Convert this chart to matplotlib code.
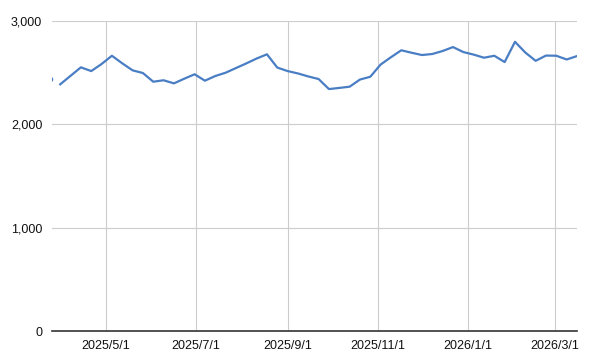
import matplotlib
matplotlib.use("Agg")
import matplotlib.pyplot as plt
import numpy as np
import pandas as pd

# Data (weekly)
first_date = "2025-03-31"
values = [2388, 2470, 2552, 2516, 2584, 2664, 2591, 2523, 2497, 2413,
          2427, 2397, 2442, 2485, 2423, 2468, 2500, 2545, 2590, 2637,
          2678, 2550, 2516, 2493, 2464, 2439, 2342, 2353, 2365, 2434,
          2461, 2579, 2650, 2717, 2693, 2671, 2681, 2710, 2748, 2700,
          2675, 2645, 2664, 2603, 2799, 2695, 2615, 2666, 2664, 2628,
          2661]
isolated_date = "2025-03-24"
isolated_value = 2439
tick_dates = ["2025-05-01", "2025-07-01", "2025-09-01", "2025-11-01", "2026-01-01", "2026-03-01"]
tick_labels = ["2025/5/1", "2025/7/1", "2025/9/1", "2025/11/1", "2026/1/1", "2026/3/1"]
y_ticks = [0, 1000, 2000, 3000]
y_labels = ["0", "1,000", "2,000", "3,000"]

dates = pd.date_range(first_date, periods=len(values), freq="7D")

plt.rcParams['font.family'] = ['Liberation Sans', 'DejaVu Sans']

fig = plt.figure(figsize=(5.94, 3.64), dpi=100)
ax = fig.add_axes([0.0875, 0.0898, 0.8839, 0.8525])

color = "#4a7ec4"
ax.plot(dates, values, color=color, lw=1.6, solid_joinstyle="round", zorder=3)
ax.plot([pd.Timestamp(isolated_date)], [isolated_value], marker="o", ms=3,
        color=color, ls="none", zorder=3)

ax.set_xlim(pd.Timestamp("2025-03-25 10:00"), pd.Timestamp("2026-03-16"))
ax.set_ylim(0, 3000)

ax.set_yticks(y_ticks)
ax.set_yticklabels(y_labels)
ax.set_xticks([pd.Timestamp(d) for d in tick_dates])
ax.set_xticklabels(tick_labels)

ax.grid(True, color="#cccccc", lw=0.8)
ax.set_axisbelow(True)
for s in ["top", "right", "left"]:
    ax.spines[s].set_visible(False)
ax.spines["bottom"].set_color("#333333")
ax.spines["bottom"].set_linewidth(1.2)
ax.spines["bottom"].set_zorder(4)

ax.tick_params(axis="both", length=0, labelsize=9, colors="#111111")
ax.tick_params(axis="y", pad=7)
ax.tick_params(axis="x", pad=6)

fig.savefig("out.png", dpi=100)
